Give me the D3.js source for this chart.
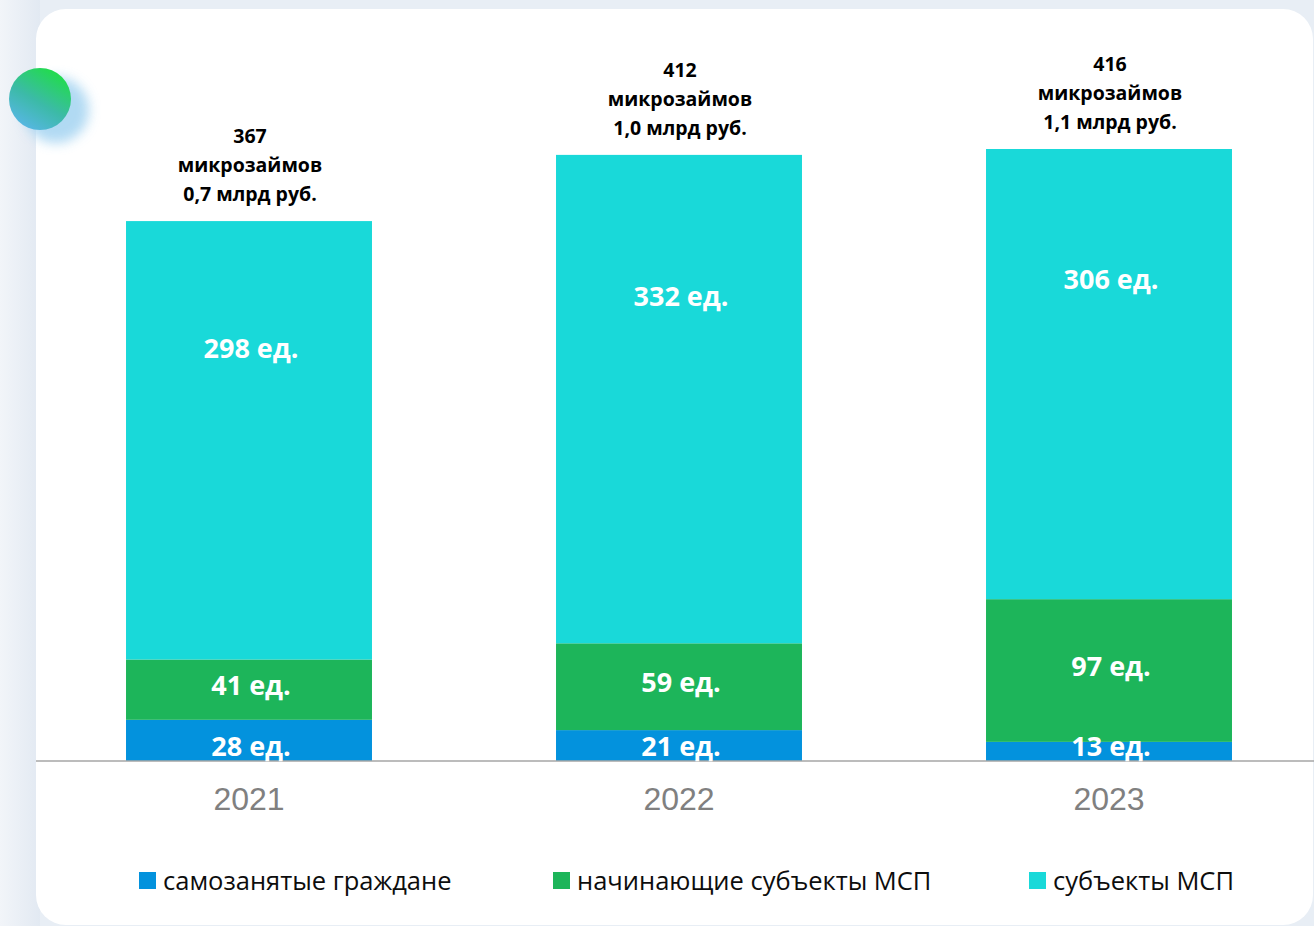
<!DOCTYPE html>
<html><head><meta charset="utf-8">
<script src="https://cdn.jsdelivr.net/npm/d3@7"></script>
<style>html,body{margin:0;padding:0;background:#fff;overflow:hidden}</style>
</head><body>
<svg id="c" width="1314" height="926"></svg>
<script>
const years = ["2021", "2022", "2023"];
const seriesNames = ["самозанятые граждане", "начинающие субъекты МСП", "субъекты МСП"];
const selfEmployed = [28, 21, 13];
const startupSME = [41, 59, 97];
const sme = [298, 332, 306];
const totalCount = [367, 412, 416];
const totalAmount = ["0,7 млрд руб.", "1,0 млрд руб.", "1,1 млрд руб."];
const colors = ["#0392dd", "#1db55a", "#19d9d9"];

const svg = d3.select("#c");
const defs = svg.append("defs");

// background
const bg = defs.append("linearGradient").attr("id","bg").attr("x1",0).attr("x2",1).attr("y1",0).attr("y2",0);
bg.append("stop").attr("offset",0).attr("stop-color","#f2f5f9");
bg.append("stop").attr("offset",1).attr("stop-color","#e2e9f2");
svg.append("rect").attr("width",1314).attr("height",926).attr("fill","#e8eef5");
svg.append("rect").attr("width",40).attr("height",926).attr("fill","url(#bg)");

// card
svg.append("rect").attr("x",36).attr("y",9).attr("width",1277).attr("height",916).attr("rx",30)
  .attr("fill","#ffffff");

// decorative circle
const blur = defs.append("filter").attr("id","blur").attr("x","-50%").attr("y","-50%").attr("width","200%").attr("height","200%");
blur.append("feGaussianBlur").attr("stdDeviation",6);
svg.append("circle").attr("cx",56).attr("cy",110).attr("r",33).attr("fill","#a9d6f2").attr("filter","url(#blur)").attr("opacity",0.9);
const cg = defs.append("linearGradient").attr("id","cg").attr("x1",0.8).attr("y1",0).attr("x2",0.2).attr("y2",1);
cg.append("stop").attr("offset",0).attr("stop-color","#1ee040");
cg.append("stop").attr("offset",0.55).attr("stop-color","#3cbaa8");
cg.append("stop").attr("offset",1).attr("stop-color","#5ab6ea");
svg.append("circle").attr("cx",40).attr("cy",99).attr("r",31).attr("fill","url(#cg)");

// scales
const x = d3.scaleBand().domain(years).range([34, 1324]).paddingInner(0.428).paddingOuter(0.214);
const y = d3.scaleLinear().domain([0, 416]).range([761, 149]);

const rows = years.map((yr,i)=>({year:yr, a:selfEmployed[i], b:startupSME[i], c:sme[i]}));
const stack = d3.stack().keys(["a","b","c"])(rows);

const g = svg.append("g");
stack.forEach((layer,li)=>{
  g.selectAll(null).data(layer).enter().append("rect")
    .attr("x", d=>x(d.data.year))
    .attr("width", x.bandwidth())
    .attr("y", d=>y(d[1]))
    .attr("height", d=>y(d[0])-y(d[1]))
    .attr("fill", colors[li]);
});

// axis line
svg.append("line").attr("x1",36).attr("x2",1314).attr("y1",y(0)).attr("y2",y(0))
  .attr("stroke","#a6a6a6").attr("stroke-width",1.5);

// segment labels
const lab = svg.append("g").attr("font-family","'Open Sans', sans-serif").attr("font-weight","bold")
  .attr("font-size",27).attr("fill","#ffffff").attr("text-anchor","middle");
stack.forEach((layer,li)=>{
  lab.selectAll(null).data(layer).enter().append("text")
    .attr("x", d=>x(d.data.year)+x.bandwidth()/2 + 2)
    .attr("y", d=>{
      if (li===0) return y(0)-14;
      if (li===1) return (y(d[0])+y(d[1]))/2 - 4;
      return y(d[1]) + 0.29*(y(d[0])-y(d[1]));
    })
    .attr("dy","0.35em")
    .text(d=>(d[1]-d[0])+" ед.");
});

// totals
const tot = svg.append("g").attr("font-family","'Open Sans', sans-serif").attr("font-weight","bold")
  .attr("font-size",19.5).attr("fill","#000").attr("text-anchor","middle");
years.forEach((yr,i)=>{
  const top = y(totalCount[i]);
  const cx = x(yr)+x.bandwidth()/2 + 1;
  const lines = [String(totalCount[i]), "микрозаймов", totalAmount[i]];
  lines.forEach((t,k)=>{
    tot.append("text").attr("x",cx).attr("y", top - 27 - (2-k)*29).attr("dy","0.35em").text(t);
  });
});

// year labels
svg.append("g").selectAll("text").data(years).enter().append("text")
  .attr("x", d=>x(d)+x.bandwidth()/2)
  .attr("y", 799).attr("dy","0.35em")
  .attr("text-anchor","middle")
  .attr("font-family","'Liberation Sans', Arial, sans-serif")
  .attr("font-size",32).attr("fill","#808080")
  .text(d=>d);

// legend
const legX = [139, 553, 1029];
const leg = svg.append("g").attr("font-family","'Open Sans', sans-serif").attr("font-size",25.5).attr("fill","#0d0d0d");
seriesNames.forEach((n,i)=>{
  leg.append("rect").attr("x",legX[i]).attr("y",872).attr("width",17).attr("height",17).attr("fill",colors[i]);
  leg.append("text").attr("x",legX[i]+24).attr("y",881).attr("dy","0.35em").text(n);
});
</script>
</body></html>
